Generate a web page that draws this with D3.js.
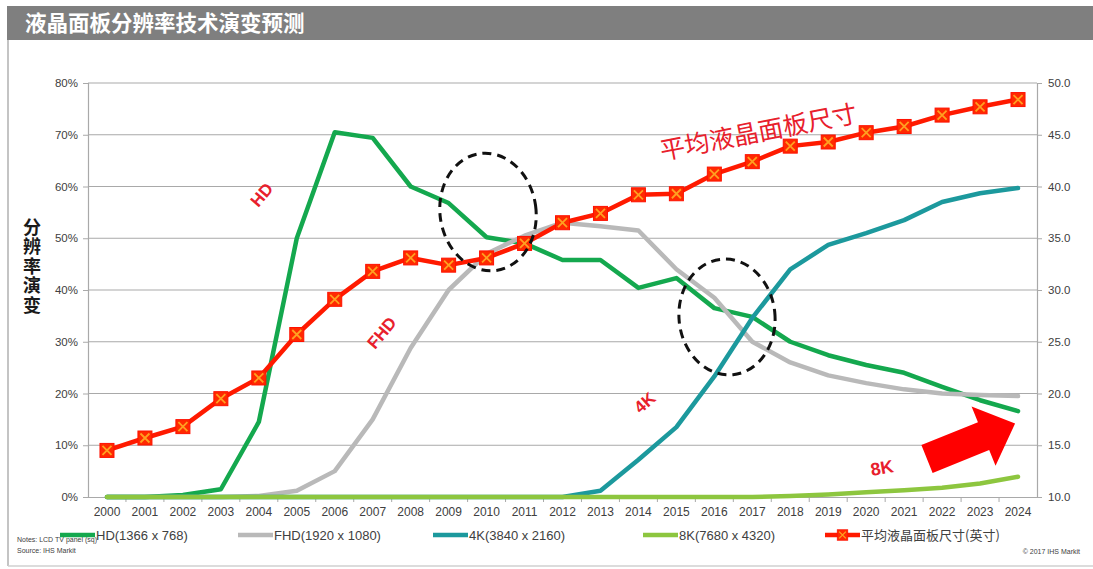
<!DOCTYPE html>
<html>
<head>
<meta charset="utf-8">
<script src="https://cdn.jsdelivr.net/npm/d3@7"></script>
<style>
  html, body { margin: 0; padding: 0; background: #ffffff; }
  svg { display: block; font-family: "Liberation Sans", Arial, sans-serif; }
</style>
</head>
<body>
<svg id="chart" width="1093" height="569"></svg>
<script>
// Years on the category axis
const years = ["2000","2001","2002","2003","2004","2005","2006","2007","2008","2009","2010","2011","2012",
               "2013","2014","2015","2016","2017","2018","2019","2020","2021","2022","2023","2024"];

// Resolution share of LCD TV panels (percent)
const hdShare   = [0,0,0.4,1.5,14.5,50,70.5,69.4,60,56.8,50.2,49,45.8,45.8,40.4,42.3,36.5,34.8,30,27.4,25.5,24,21.3,18.7,16.6];
const fhdShare  = [0,0,0,0,0.2,1.2,5,15,28.8,40,47,50.5,53,52.3,51.5,44,38.5,30,26,23.5,22,20.8,20,19.7,19.5];
const uhd4kShare = [0,0,0,0,0,0,0,0,0,0,0,0,0,1.2,7.2,13.5,23.3,34.6,44,48.7,51,53.5,57,58.7,59.7];
const uhd8kShare = [0,0,0,0,0,0,0,0,0,0,0,0,0,0,0,0,0,0,0.2,0.5,0.9,1.3,1.8,2.6,3.9];

// Average LCD panel size (inch), right axis
const avgSize = [14.5,15.7,16.8,19.5,21.5,25.7,29.1,31.8,33.1,32.4,33.1,34.5,36.5,37.4,39.2,39.3,41.2,42.4,43.9,44.3,45.2,45.8,46.9,47.7,48.4];

// Axis tick values
const leftTicks  = [0,10,20,30,40,50,60,70,80];
const rightTicks = [10,15,20,25,30,35,40,45,50];

// Legend labels
const legendLabels = ["HD(1366 x 768)","FHD(1920 x 1080)","4K(3840 x 2160)","8K(7680 x 4320)","平均液晶面板尺寸(英寸)"];

const C = {
  hd: "#14a84e", fhd: "#b9b9b9", k4: "#1c999d", k8: "#8dc63f", size: "#ff1a00",
  grid: "#a9a9a9", text: "#404040", anno: "#e8202c"
};

const svg = d3.select("#chart");
const plot = { left: 88, right: 1037, top: 83, bottom: 497 };

// Frame and title bar
svg.append("rect").attr("x", 7).attr("y", 6).attr("width", 1086).attr("height", 34).attr("fill", "#7f7f7f");
svg.append("line").attr("x1", 8).attr("x2", 8).attr("y1", 40).attr("y2", 566).attr("stroke", "#b0b0b0").attr("stroke-width", 1.5);
svg.append("line").attr("x1", 8).attr("x2", 1093).attr("y1", 566).attr("y2", 566).attr("stroke", "#d0d0d0").attr("stroke-width", 1.5);
svg.append("text").attr("x", 25).attr("y", 31).attr("fill", "#ffffff")
  .attr("font-family", "'Noto Sans CJK SC', sans-serif").attr("font-weight", "bold").attr("font-size", 21.5)
  .text("液晶面板分辨率技术演变预测");

// Scales
const x = d3.scaleBand().domain(years).range([plot.left, plot.right]);
const cx = d => x(d) + x.bandwidth() / 2;
const yL = d3.scaleLinear().domain([0, 80]).range([plot.bottom, plot.top]);
const yR = d3.scaleLinear().domain([10, 50]).range([plot.bottom, plot.top]);

// Gridlines
svg.append("g").selectAll("line").data(leftTicks.slice(1)).join("line")
  .attr("x1", plot.left).attr("x2", plot.right)
  .attr("y1", d => yL(d)).attr("y2", d => yL(d))
  .attr("stroke", C.grid).attr("stroke-width", 1);

// Left axis
const gL = svg.append("g").attr("transform", `translate(${plot.left},0)`)
  .call(d3.axisLeft(yL).tickValues(leftTicks).tickSize(5).tickPadding(5).tickFormat(d => d + "%"));
// Right axis
const gR = svg.append("g").attr("transform", `translate(${plot.right},0)`)
  .call(d3.axisRight(yR).tickValues(rightTicks).tickSize(5).tickPadding(6).tickFormat(d3.format(".1f")));
// Bottom axis (labels at category centres)
const gB = svg.append("g").attr("transform", `translate(0,${plot.bottom})`)
  .call(d3.axisBottom(x).tickSize(0).tickPadding(10));
// Category boundary ticks
svg.append("g").selectAll("line").data(years.slice(1)).join("line")
  .attr("x1", d => x(d)).attr("x2", d => x(d))
  .attr("y1", plot.bottom).attr("y2", plot.bottom + 5)
  .attr("stroke", C.grid);

[gL, gR, gB].forEach(g => {
  g.selectAll(".domain").attr("stroke", C.grid).attr("stroke-width", 1.2);
  g.selectAll(".tick line").attr("stroke", C.grid);
  g.selectAll("text").attr("fill", C.text).attr("font-size", 11.5);
});
gB.selectAll("text").attr("font-size", 12);

// Left axis title, set vertically
svg.append("text")
  .attr("x", 32).attr("y", 218)
  .style("writing-mode", "vertical-rl").style("text-orientation", "upright")
  .style("letter-spacing", "1.5px")
  .attr("font-family", "'Noto Sans CJK SC', sans-serif").attr("font-weight", "bold").attr("font-size", 18)
  .attr("fill", "#1a1a1a").text("分辨率演变");

// Series lines
const lineL = d3.line().x((d, i) => cx(years[i])).y(d => yL(d));
const lineR = d3.line().x((d, i) => cx(years[i])).y(d => yR(d));

const series = [
  { data: hdShare, color: C.hd, w: 4.5 },
  { data: fhdShare, color: C.fhd, w: 4.5 },
  { data: uhd4kShare, color: C.k4, w: 4.5 },
  { data: uhd8kShare, color: C.k8, w: 4.5 }
];
svg.append("g").selectAll("path").data(series).join("path")
  .attr("d", s => lineL(s.data))
  .attr("fill", "none").attr("stroke", s => s.color).attr("stroke-width", s => s.w)
  .attr("stroke-linejoin", "round").attr("stroke-linecap", "round");

// Average panel size line with markers
svg.append("path").attr("d", lineR(avgSize))
  .attr("fill", "none").attr("stroke", C.size).attr("stroke-width", 4.5).attr("stroke-linejoin", "round");

function marker(g) {
  g.append("rect").attr("x", -7).attr("y", -7).attr("width", 14).attr("height", 14)
    .attr("fill", "#ff2a00").attr("stroke", "#ff1000").attr("stroke-width", 1);
  g.append("path").attr("d", "M-4.5,-4.5L4.5,4.5M-4.5,4.5L4.5,-4.5")
    .attr("stroke", "#ffa020").attr("stroke-width", 1.8);
}
svg.append("g").selectAll("g").data(avgSize).join("g")
  .attr("transform", (d, i) => `translate(${cx(years[i])},${yR(d)})`)
  .each(function () { marker(d3.select(this)); });

// Dashed highlight ellipses around the crossover regions
const highlights = [
  { cx: 488, cy: 212, rx: 48, ry: 59, rot: -8 },
  { cx: 727, cy: 317, rx: 48, ry: 58, rot: -6 }
];
svg.append("g").selectAll("ellipse").data(highlights).join("ellipse")
  .attr("transform", d => `translate(${d.cx},${d.cy}) rotate(${d.rot})`)
  .attr("rx", d => d.rx).attr("ry", d => d.ry)
  .attr("fill", "none").attr("stroke", "#111").attr("stroke-width", 3).attr("stroke-dasharray", "9,6");

// Series annotations
const annos = [
  { t: "HD", x: 262, y: 195, r: -50, s: 17 },
  { t: "FHD", x: 382, y: 333, r: -50, s: 17 },
  { t: "4K", x: 645, y: 403, r: -42, s: 17 },
  { t: "8K", x: 882, y: 468, r: -10, s: 18 }
];
svg.append("g").selectAll("text").data(annos).join("text")
  .attr("transform", d => `translate(${d.x},${d.y}) rotate(${d.r})`)
  .attr("text-anchor", "middle").attr("dominant-baseline", "central")
  .attr("font-weight", "bold").attr("font-size", d => d.s).attr("fill", C.anno)
  .text(d => d.t);

svg.append("text").attr("transform", "translate(758,130) rotate(-11)")
  .attr("text-anchor", "middle").attr("dominant-baseline", "central")
  .attr("font-family", "'Noto Sans CJK SC', sans-serif").attr("font-size", 25).attr("fill", C.anno)
  .text("平均液晶面板尺寸");

// Growth arrow
svg.append("path").attr("transform", "translate(927,459) rotate(-22)")
  .attr("d", "M0,-15L61,-15L61,-32L95,0L61,32L61,15L0,15Z")
  .attr("fill", "#ff0000");

// Notes and source
svg.append("text").attr("x", 17).attr("y", 542).attr("font-size", 7).attr("fill", C.text).text("Notes: LCD TV panel (sq)");
svg.append("text").attr("x", 17).attr("y", 553).attr("font-size", 7).attr("fill", C.text).text("Source: IHS Markit");
svg.append("text").attr("x", 1080).attr("y", 554).attr("text-anchor", "end").attr("font-size", 7).attr("fill", C.text).text("© 2017 IHS Markit");

// Legend
const legendItems = [
  { label: legendLabels[0], color: C.hd, x: 60 },
  { label: legendLabels[1], color: C.fhd, x: 238 },
  { label: legendLabels[2], color: C.k4, x: 433 },
  { label: legendLabels[3], color: C.k8, x: 643 },
  { label: legendLabels[4], color: C.size, x: 825, mark: true }
];
const lg = svg.append("g").selectAll("g").data(legendItems).join("g")
  .attr("transform", d => `translate(${d.x},535)`);
lg.append("line").attr("x1", 0).attr("x2", 35).attr("y1", 0).attr("y2", 0)
  .attr("stroke", d => d.color).attr("stroke-width", 4.5);
lg.filter(d => d.mark).append("g").attr("transform", "translate(17.5,0) scale(0.75)")
  .each(function () { marker(d3.select(this)); });
lg.append("text").attr("x", 36).attr("y", 4.5)
  .attr("font-size", 13).attr("fill", C.text)
  .attr("font-family", d => d.mark ? "'Noto Sans CJK SC', sans-serif" : null)
  .text(d => d.label);
</script>
</body>
</html>
